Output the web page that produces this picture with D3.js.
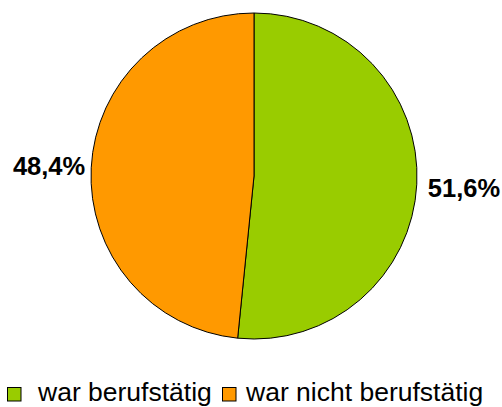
<!DOCTYPE html>
<html><head><meta charset="utf-8">
<script src="https://cdn.jsdelivr.net/npm/d3@7"></script>
<style>body{margin:0;background:#fff}svg{display:block}</style>
</head><body>
<script>
const categories = ["war berufstätig", "war nicht berufstätig"];
const values = [51.6, 48.4];
const labels = ["51,6%", "48,4%"];
const colors = ["#99CC00", "#FF9900"];

const W = 502, H = 407;
const svg = d3.select("body").append("svg").attr("width", W).attr("height", H);
const cx = 254, cy = 176, r = 163;
const pie = d3.pie().sort(null).value(d => d)(values);
const arc = d3.arc().innerRadius(0).outerRadius(r);
const g = svg.append("g").attr("transform", `translate(${cx},${cy})`);
g.selectAll("path").data(pie).join("path")
  .attr("d", arc)
  .attr("fill", (d, i) => colors[i])
  .attr("stroke", "#000").attr("stroke-width", 1);

const mid = d => (d.startAngle + d.endAngle) / 2;
g.selectAll("text.lbl").data(pie).join("text").attr("class", "lbl")
  .attr("x", d => { const s = Math.sin(mid(d)); return s * (r + (s > 0 ? 11 : 6)); })
  .attr("y", d => { const s = Math.sin(mid(d)); return -Math.cos(mid(d)) * (r + 8) + (s > 0 ? 12 : 8); })
  .attr("text-anchor", d => Math.sin(mid(d)) > 0 ? "start" : "end")
  .attr("font-family", "Liberation Sans, Arial, sans-serif")
  .attr("font-weight", "bold").attr("font-size", 25.5)
  .attr("fill", "#000")
  .text((d, i) => labels[i]);

const legend = svg.append("g").attr("font-family", "Liberation Sans, Arial, sans-serif").attr("font-size", 26.5);
const lx = [7, 222], tx = [38, 246];
categories.forEach((c, i) => {
  legend.append("rect").attr("x", lx[i] + 0.5).attr("y", 387.5).attr("width", 13.5).attr("height", 13.5)
    .attr("fill", colors[i]).attr("stroke", "#000").attr("stroke-width", 1);
  legend.append("text").attr("x", tx[i]).attr("y", 401).text(c);
});
</script>
</body></html>
